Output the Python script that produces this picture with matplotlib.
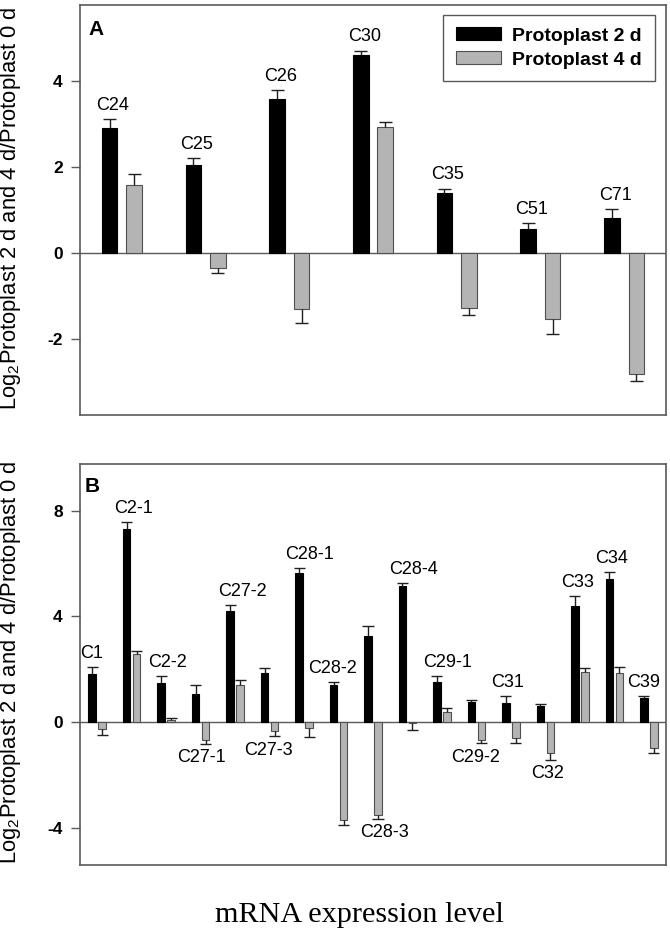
import matplotlib
matplotlib.use("Agg")
import matplotlib.pyplot as plt
import numpy as np

plt.rcParams['font.family'] = ['Liberation Sans', 'DejaVu Sans']
plt.rcParams['mathtext.fontset'] = 'custom'
plt.rcParams['mathtext.rm'] = 'Liberation Sans'
plt.rcParams['mathtext.it'] = 'Liberation Sans:italic'
plt.rcParams['mathtext.bf'] = 'Liberation Sans:bold'

# ---- Panel A data ----
cats_a = ['C24', 'C25', 'C26', 'C30', 'C35', 'C51', 'C71']
d2_a = [2.91, 2.05, 3.59, 4.60, 1.39, 0.55, 0.82]
d2_a_err = [0.20, 0.15, 0.20, 0.11, 0.11, 0.14, 0.20]
d4_a = [1.58, -0.34, -1.30, 2.94, -1.28, -1.54, -2.82]
d4_a_err = [0.25, 0.13, 0.33, 0.10, 0.16, 0.35, 0.17]
yticks_a = [-2, 0, 2, 4]

# ---- Panel B data ----
cats_b = ['C1', 'C2-1', 'C2-2', 'C27-1', 'C27-2', 'C27-3', 'C28-1', 'C28-2', 'C28-3',
          'C28-4', 'C29-1', 'C29-2', 'C31', 'C32', 'C33', 'C34', 'C39']
d2_b = [1.80, 7.32, 1.49, 1.06, 4.20, 1.84, 5.65, 1.40, 3.27,
        5.16, 1.51, 0.74, 0.73, 0.61, 4.39, 5.43, 0.90]
d2_b_err = [0.29, 0.26, 0.26, 0.35, 0.23, 0.20, 0.17, 0.10, 0.36,
            0.10, 0.24, 0.10, 0.25, 0.08, 0.39, 0.26, 0.07]
d4_b = [-0.26, 2.56, 0.08, -0.68, 1.39, -0.33, -0.24, -3.73, -3.52,
        -0.05, 0.39, -0.68, -0.62, -1.19, 1.88, 1.84, -1.00]
d4_b_err = [0.23, 0.13, 0.05, 0.15, 0.20, 0.22, 0.33, 0.19, 0.15,
            0.24, 0.14, 0.13, 0.19, 0.25, 0.16, 0.25, 0.19]
yticks_b = [-4, 0, 4, 8]
# label placement: 'up' above the 2 d bar, 'down' below the 4 d bar
label_side_b = ['up', 'up', 'up', 'down', 'up', 'down', 'up', 'up', 'down',
                'up', 'up', 'down', 'up', 'down', 'up', 'up', 'up']
label_dx_b = [-0.03, 0.2, 0.17, 0.17, 0.37, 0.12, 0.31, -0.02, 0.49,
              0.33, 0.3, 0.12, 0.05, 0.21, 0.07, 0.07, 0.0]

legend_labels = ['Protoplast 2 d', 'Protoplast 4 d']
ylabel = r'Log$_2$Protoplast 2 d and 4 d/Protoplast 0 d'
xlabel = 'mRNA expression level'

BLACK = '#000000'
GRAY = '#b4b4b4'
EDGE_G = '#505050'
SPINE = '#5a5a5a'

fig = plt.figure(figsize=(6.7, 9.44), dpi=100)
W, H = 670, 944
axA = fig.add_axes([80 / W, 1 - 415 / H, 586 / W, 410 / H])
axB = fig.add_axes([80 / W, 1 - 865 / H, 586 / W, 401 / H])


def draw_errs(ax, xs, vals, errs, capw, color='#202020'):
    for x, v, e in zip(xs, vals, errs):
        end = v + e if v >= 0 else v - e
        ax.vlines(x, v, end, color=color, lw=1.0, zorder=3)
        ax.hlines(end, x - capw, x + capw, color=color, lw=1.0, zorder=3)


def style(ax, ylim, yticks):
    ax.set_ylim(*ylim)
    ax.set_yticks(yticks)
    ax.set_yticklabels([str(t) for t in yticks], fontsize=12.5, fontweight='bold')
    ax.set_xticks([])
    ax.tick_params(axis='y', direction='out', length=6.5, width=1, color=SPINE, pad=6)
    for s in ax.spines.values():
        s.set_color(SPINE)
        s.set_linewidth(1.2)
    ax.axhline(0, color=SPINE, lw=1.0, zorder=1)
    ax.set_ylabel(ylabel, fontsize=15.8)
    ax.yaxis.set_label_coords(-0.097, 0.505)


# Panel A
xa = np.arange(len(cats_a))
wa, offa = 0.187, 0.146
axA.bar(xa - offa, d2_a, wa, color=BLACK, edgecolor=BLACK, lw=0.8, zorder=2,
        label=legend_labels[0])
axA.bar(xa + offa, d4_a, wa, color=GRAY, edgecolor=EDGE_G, lw=0.8, zorder=2,
        label=legend_labels[1])
draw_errs(axA, xa - offa, d2_a, d2_a_err, 0.078)
draw_errs(axA, xa + offa, d4_a, d4_a_err, 0.078)
axA.set_xlim(-0.5, len(cats_a) - 0.5)
style(axA, (-3.77, 5.77), yticks_a)
for x, v, e, name in zip(xa, d2_a, d2_a_err, cats_a):
    axA.annotate(name, (x - offa + 0.04, v + e), xytext=(0, 4), textcoords='offset points',
                 ha='center', va='bottom', fontsize=13)
axA.text(0.0137, 0.963, 'A', transform=axA.transAxes, fontsize=15, fontweight='bold',
         ha='left', va='top')
leg = axA.legend(loc='upper right', bbox_to_anchor=(0.981, 0.976), borderaxespad=0,
                 handlelength=2.3, handleheight=0.62, fancybox=False,
                 frameon=True, borderpad=0.65, labelspacing=0.35, handletextpad=0.6,
                 prop={'weight': 'bold', 'size': 14})
leg.get_frame().set_edgecolor('#303030')
leg.get_frame().set_linewidth(1.0)

# Panel B
xb = np.arange(len(cats_b))
wb, offb = 0.22, 0.145
axB.bar(xb - offb, d2_b, wb, color=BLACK, edgecolor=BLACK, lw=0.8, zorder=2)
axB.bar(xb + offb, d4_b, wb, color=GRAY, edgecolor=EDGE_G, lw=0.8, zorder=2)
draw_errs(axB, xb - offb, d2_b, d2_b_err, 0.16)
draw_errs(axB, xb + offb, d4_b, d4_b_err, 0.16)
axB.set_xlim(-0.5, len(cats_b) - 0.5)
style(axB, (-5.42, 9.77), yticks_b)
for i, name in enumerate(cats_b):
    if label_side_b[i] == 'up':
        y = d2_b[i] + d2_b_err[i]
        axB.annotate(name, (xb[i] - offb + label_dx_b[i], y), xytext=(0, 3.5),
                     textcoords='offset points', ha='center', va='bottom', fontsize=13)
    else:
        y = d4_b[i] - d4_b_err[i]
        axB.annotate(name, (xb[i] - offb + label_dx_b[i], y), xytext=(0, -4),
                     textcoords='offset points', ha='center', va='top', fontsize=13)
axB.text(0.0085, 0.968, 'B', transform=axB.transAxes, fontsize=15, fontweight='bold',
         ha='left', va='top')

fig.text(359 / W, 1 - 915 / H, xlabel, family=['Liberation Serif', 'DejaVu Serif'],
         fontsize=21.8, ha='center', va='center')

fig.savefig('out.png', dpi=100)
